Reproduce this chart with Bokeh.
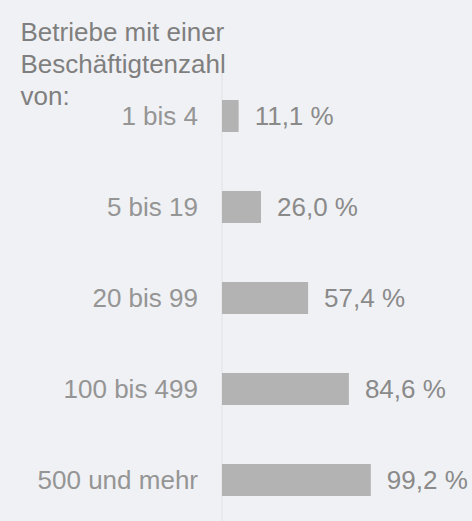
from bokeh.plotting import figure
from bokeh.models import Range1d, Label, ColumnDataSource
from bokeh.core.properties import value
from bokeh.embed import file_html
from bokeh.resources import INLINE

# ---- data ----
categories = ["1 bis 4", "5 bis 19", "20 bis 99", "100 bis 499", "500 und mehr"]
shares = [11.1, 26.0, 57.4, 84.6, 99.2]
value_labels = ["11,1 %", "26,0 %", "57,4 %", "84,6 %", "99,2 %"]
title_lines = ["Betriebe mit einer", "Beschäftigtenzahl", "von:"]

# ---- layout ----
OFF = 0                      # page margin as rendered (template sets margin 0)
W, H = 472 - OFF, 521 - OFF
BG = "#f0f1f4"
FONT = "Liberation Sans"
PX_PER_PCT = 1.5
PX_PER_ROW = 91
X0_PX = 221.5 - OFF          # zero line position in figure px
ROW0_PX = 115.5 - OFF        # centre of first row in figure px

n = len(categories)
rows = list(range(n))

x_range = Range1d(-X0_PX / PX_PER_PCT, (W - X0_PX) / PX_PER_PCT)
y_top = -ROW0_PX / PX_PER_ROW
y_bottom = y_top + H / PX_PER_ROW
y_range = Range1d(start=y_bottom, end=y_top)

p = figure(width=W, height=H, x_range=x_range, y_range=y_range,
           x_axis_type=None, y_axis_type=None,
           output_backend="svg", toolbar_location=None, min_border=0,
           background_fill_color=BG, border_fill_color=BG,
           outline_line_color=None)
p.grid.visible = False

src = ColumnDataSource(dict(row=rows, cat=categories, share=shares, lab=value_labels))

# vertical baseline spanning the category bands
p.segment(x0=[0], y0=[-0.5], x1=[0], y1=[n - 0.5], line_color="#e0e1e4", line_width=1)

p.hbar(y="row", left=0, right="share", height=0.352, source=src,
       fill_color="#b3b3b3", line_color=None)

p.text(x="share", y="row", text="lab", source=src, x_offset=16,
       text_align="left", text_baseline="middle",
       text_font=value(FONT), text_font_size="26px", text_color="#8a8a8a")

p.text(x=0, y="row", text="cat", source=src, x_offset=-24,
       text_align="right", text_baseline="middle",
       text_font=value(FONT), text_font_size="26px", text_color="#959595")

baselines = [31.7, 63.3, 95.0]
for line, bl in zip(title_lines, baselines):
    p.add_layout(Label(x=20 - OFF, y=H - (bl - OFF), x_units="screen", y_units="screen",
                       text=line, text_align="left", text_baseline="alphabetic",
                       text_font=FONT, text_font_size="26px", text_color="#7f7f7f"))

html = file_html(p, INLINE, title="Betriebe")
html = html.replace("</head>", "<style>html,body{background:%s;}</style></head>" % BG, 1)
open("out.html", "w").write(html)
